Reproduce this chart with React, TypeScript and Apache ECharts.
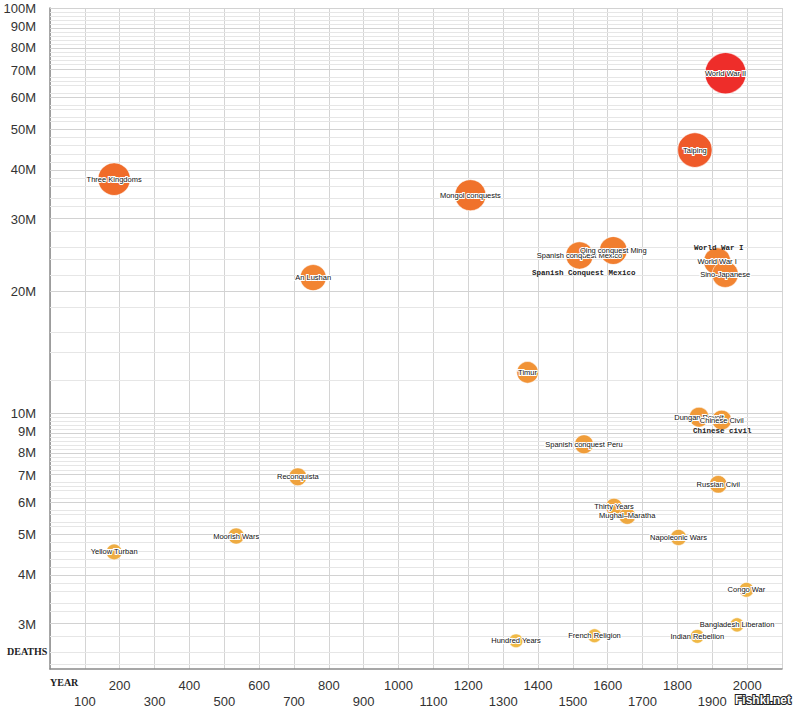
import React, { useEffect, useRef } from 'react';
import * as echarts from 'echarts';

// ---- data ----
const warNames = [
  'World War II', 'Taiping', 'Three Kingdoms', 'Mongol conquests', 'Spanish conquest Mexico',
  'Qing conquest Ming', 'World War I', 'Sino-Japanese', 'An Lushan', 'Timur',
  'Dungan Revolt', 'Chinese Civil', 'Spanish conquest Peru', 'Reconquista', 'Russian Civil',
  'Thirty Years', 'Mughal–Maratha', 'Moorish Wars', 'Napoleonic Wars', 'Yellow Turban',
  'Congo War', 'Bangladesh Liberation', 'French Religion', 'Indian Rebellion', 'Hundred Years',
];
const warYears = [
  1938, 1850, 184, 1206, 1519,
  1616, 1914, 1937, 755, 1370,
  1862, 1927, 1532, 711, 1917,
  1618, 1656, 534, 1803, 184,
  1998, 1971, 1562, 1857, 1337,
];
const warDeathsM = [
  69, 44.6, 37.8, 34.5, 24.5,
  25.2, 23.7, 22.0, 21.6, 12.6,
  9.77, 9.61, 8.37, 6.96, 6.67,
  5.87, 5.57, 4.97, 4.93, 4.54,
  3.66, 3.0, 2.82, 2.81, 2.74,
];

const yTickLabelsM = [3, 4, 5, 6, 7, 8, 9, 10, 20, 30, 40, 50, 60, 70, 80, 90, 100];
const xTickStep = 100;
const xMin = 0;
const xMax = 2100;
const yMinM = 2.334;
const yMaxM = 100;

const colorRamp = ['#f0bc48', '#eeab42', '#f09a38', '#f28a34', '#f0702a', '#ee2a2a'];

const lg = (m: number) => Math.log10(m * 1e6);

export default function App() {
  const ref = useRef<HTMLDivElement>(null);
  useEffect(() => {
    if (!ref.current) return;
    const chart = echarts.init(ref.current, undefined, { renderer: 'svg' });

    // minor horizontal grid values
    const minor: number[] = [];
    for (let v = 2.4; v < 10; v += 0.2) {
      const r = Math.round(v * 10) / 10;
      if (Math.abs(r - Math.round(r)) > 1e-6) minor.push(r);
    }
    for (let v = 12; v < 100; v += 2) {
      if (v % 10 !== 0) minor.push(v);
    }

    const gridLines = [
      ...minor.map((m) => ({ yAxis: lg(m), lineStyle: { color: '#e6e6e6', width: 1, type: 'solid' } })),
      ...yTickLabelsM.map((m) => ({ yAxis: lg(m), lineStyle: { color: '#d2d2d2', width: 1, type: 'solid' } })),
    ];

    const data = warNames.map((n, i) => ({
      name: n,
      value: [warYears[i], lg(warDeathsM[i]), warDeathsM[i]],
    }));

    const monoFont = '7.5px "Liberation Mono", "DejaVu Sans Mono", monospace';

    const option: any = {
      animation: false,
      grid: { left: 50, right: 18, top: 8, bottom: 43, containLabel: false },
      xAxis: {
        type: 'value',
        min: xMin,
        max: xMax,
        interval: xTickStep,
        axisLine: { show: true, lineStyle: { color: '#8a8a8a', width: 1.5 } },
        axisTick: { show: false },
        splitLine: { show: true, lineStyle: { color: '#d4d4d4', width: 1 } },
        axisLabel: {
          interval: 0,
          margin: 8,
          color: '#333',
          fontFamily: 'Liberation Sans, Arial, sans-serif',
          fontSize: 13,
          lineHeight: 16,
          formatter: (v: number) => {
            if (v <= xMin || v >= xMax) return '';
            return (Math.round(v / 100) % 2 === 1) ? '\n' + v : String(v);
          },
        },
      },
      yAxis: {
        type: 'value',
        min: lg(yMinM),
        max: lg(yMaxM),
        axisLine: { show: true, lineStyle: { color: '#8a8a8a', width: 1.5 } },
        axisTick: { show: false },
        splitLine: { show: false },
        axisLabel: {
          customValues: yTickLabelsM.map(lg),
          margin: 14,
          color: '#333',
          fontFamily: 'Liberation Sans, Arial, sans-serif',
          fontSize: 13,
          formatter: (v: number) => Math.round(Math.pow(10, v) / 1e6) + 'M',
        },
      },
      visualMap: {
        show: false,
        type: 'continuous',
        seriesIndex: 1,
        dimension: 1,
        min: 6.4,
        max: 7.85,
        inRange: { color: colorRamp },
      },
      series: [
        {
          type: 'line',
          data: [],
          z: 1,
          silent: true,
          markLine: {
            z: 1,
            silent: true,
            symbol: ['none', 'none'],
            label: { show: false },
            emphasis: { disabled: true },
            animation: false,
            data: gridLines,
          },
        },
        {
          type: 'scatter',
          z: 10,
          data,
          symbolSize: (val: number[]) => 7 + 4.1 * Math.sqrt(val[2]),
          itemStyle: { opacity: 1, borderColor: 'rgba(255,255,255,0.55)', borderWidth: 1 },
          label: {
            show: true,
            position: 'inside',
            formatter: '{b}',
            color: '#111',
            fontFamily: 'Liberation Sans, Arial, sans-serif',
            fontSize: 7.5,
            textBorderColor: '#ffffff',
            textBorderWidth: 2,
          },
        },
      ],
      graphic: [
        {
          type: 'text', left: 7, top: 646, z: 20,
          style: { text: 'DEATHS', font: 'bold 10px "Liberation Serif", serif', fill: '#222' },
        },
        {
          type: 'text', left: 50, top: 677, z: 20,
          style: { text: 'YEAR', font: 'bold 10px "Liberation Serif", serif', fill: '#222' },
        },
        {
          type: 'text', left: 694, top: 244, z: 20,
          style: { text: 'World War I', font: 'bold ' + monoFont, fill: '#222' },
        },
        {
          type: 'text', left: 532, top: 269, z: 20,
          style: { text: 'Spanish Conquest Mexico', font: 'bold ' + monoFont, fill: '#222' },
        },
        {
          type: 'text', left: 693, top: 427, z: 20,
          style: { text: 'Chinese civil', font: 'bold ' + monoFont, fill: '#222' },
        },
        {
          type: 'text', left: 734, top: 693, z: 20,
          style: {
            text: 'Fishki.net', font: 'bold 12px "Liberation Sans", Arial, sans-serif',
            fill: '#ffffff', stroke: '#222', lineWidth: 2,
          },
        },
      ],
    };
    chart.setOption(option);
    return () => chart.dispose();
  }, []);

  return (
    <div
      ref={ref}
      style={{ position: 'fixed', left: 0, top: 0, width: 800, height: 712, background: '#fff' }}
    />
  );
}
